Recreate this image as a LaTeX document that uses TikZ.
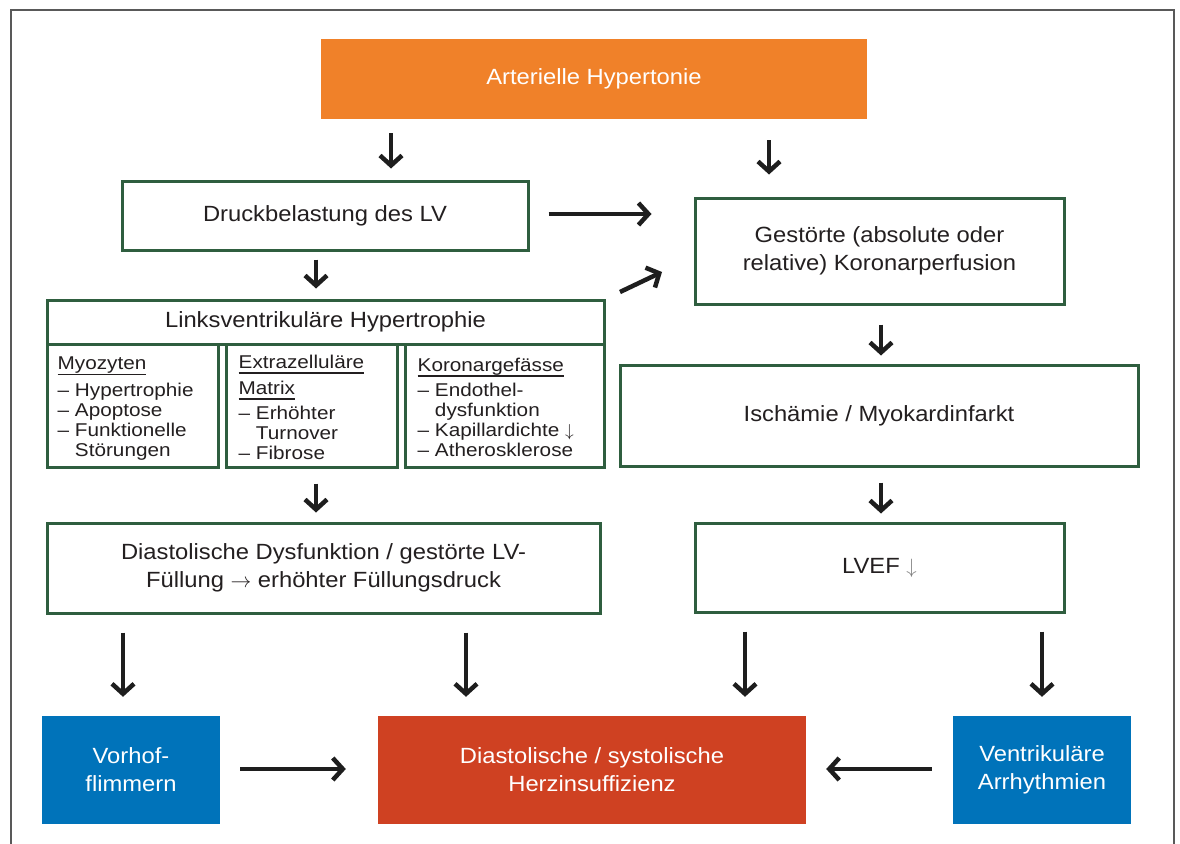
\documentclass[tikz,border=0pt]{standalone}
\usepackage{fontspec}
\setmainfont{Liberation Sans}[FakeStretch=1.08]
\newfontfamily\subfont{Liberation Sans}[FakeStretch=1.12]
\usetikzlibrary{arrows.meta}
\definecolor{boxgreen}{HTML}{2F5E3F}
\definecolor{hypo}{HTML}{F08129}
\definecolor{afblue}{HTML}{0073BA}
\definecolor{hired}{HTML}{CF4122}
\definecolor{txt}{HTML}{231F20}
\definecolor{arrc}{HTML}{1E1E1E}
\newcommand\myul[1]{\setbox0\hbox{#1}\rlap{\rule[-5.5pt]{\wd0}{1.3pt}}\box0}
\newcommand\myind{\phantom{–\ }}
\begin{document}
\begin{tikzpicture}[x=1pt,y=-1pt,
  mainfont/.style={font=\fontsize{22}{28}\selectfont},
  gbox/.style={draw=boxgreen, line width=3pt, fill=white, text=txt, align=center, inner sep=0pt, mainfont},
  fbox/.style={draw=none, text=white, align=center, inner sep=0pt, mainfont},
  subtext/.style={anchor=north west, inner sep=0pt, align=left, text=txt, font=\subfont\fontsize{18.5}{20}\selectfont},
  arr/.style={draw=arrc, line width=4.5pt, -{Straight Barb[length=10pt,width=22pt]}},
  framestyle/.style={draw=gray!70!black, line width=1.3pt}
]
\useasboundingbox (0,0) rectangle (1180,843);
\draw[framestyle] (11,845) -- (11,10) -- (1174,10) -- (1174,845);

\node[fbox, fill=hypo, minimum width=546pt, minimum height=80pt] (hyp) at (594,79) {Arterielle Hypertonie};
\node[gbox, minimum width=406pt, minimum height=69pt] (druck) at (325,215.5) {Druckbelastung des LV};
\node[gbox, minimum width=369pt, minimum height=106pt] (gest) at (879.5,251) {Gestörte (absolute oder\\relative) Koronarperfusion};
\node[gbox, minimum width=557pt, minimum height=44pt] (lvh) at (325.5,322) {Linksventrikuläre Hypertrophie};
\node[gbox, minimum width=171pt, minimum height=123pt] (myo) at (132.5,405.5) {};
\node[gbox, minimum width=171pt, minimum height=123pt] (extra) at (311.5,405.5) {};
\node[gbox, minimum width=199pt, minimum height=123pt] (koro) at (504.5,405.5) {};
\node[gbox, minimum width=518pt, minimum height=101pt] (isch) at (879,415.5) {Ischämie / Myokardinfarkt};
\node[gbox, minimum width=553pt, minimum height=90pt] (diast) at (323.5,568) {Diastolische Dysfunktion / gestörte LV-\\Füllung $\rightarrow$ erhöhter Füllungsdruck};
\node[gbox, minimum width=369pt, minimum height=89pt] (lvef) at (879.5,567.5) {LVEF {\color{gray}$\downarrow$}};
\node[fbox, fill=afblue, minimum width=178pt, minimum height=108pt] (vorhof) at (131,770) {Vorhof-\\flimmern};
\node[fbox, fill=hired, minimum width=428pt, minimum height=108pt] (herz) at (592,770) {Diastolische / systolische\\Herzinsuffizienz};
\node[fbox, fill=afblue, minimum width=178pt, minimum height=108pt] (ventr) at (1042,770) {Ventrikuläre\\Arrhythmien};

\node[subtext] (myotxt) at ([xshift=12pt,yshift=-14pt]myo.north west)
  {\myul{Myozyten}\\[7pt] – Hypertrophie\\ – Apoptose\\ – Funktionelle\\ \myind Störungen};
\node[subtext] (extratxt) at ([xshift=14pt,yshift=-12pt]extra.north west)
  {\myul{Extrazelluläre}\\[6pt] \myul{Matrix}\\[5pt] – Erhöhter\\ \myind Turnover\\ – Fibrose};
\node[subtext] (korotxt) at ([xshift=14pt,yshift=-15pt]koro.north west)
  {\myul{Koronargefässe}\\[5pt] – Endothel-\\ \myind dysfunktion\\ – Kapillardichte $\downarrow$\\ – Atherosklerose};

\draw[arr, shorten <=14pt, shorten >=11pt] ([xshift=-203pt]hyp.south) -- ([xshift=66pt]druck.north);
\draw[arr, shorten <=21pt, shorten >=22pt] ([xshift=175pt]hyp.south) -- ([xshift=-110.5pt]gest.north);
\draw[arr, shorten <=19pt, shorten >=42pt] ([yshift=1.5pt]druck.east) -- ([yshift=1.5pt]druck.east -| gest.west);
\draw[arr, shorten <=8pt, shorten >=10pt] ([xshift=-9pt]druck.south) -- ([xshift=-9.5pt]lvh.north);
\draw[arr] ([xshift=14.5pt,yshift=6.5pt]lvh.north east) -- ([xshift=-31.5pt,yshift=-21pt]gest.west);
\draw[arr, shorten <=19pt, shorten >=8pt] ([xshift=1.5pt]gest.south) -- ([xshift=2pt]isch.north);
\draw[arr, shorten <=15pt, shorten >=8pt] ([xshift=2pt]isch.south) -- ([xshift=1.5pt]lvef.north);
\draw[arr, shorten <=15pt, shorten >=9pt] ([xshift=4.5pt]extra.south) -- ([xshift=-7.5pt]diast.north);
\draw[arr, shorten <=18pt, shorten >=19pt] ([xshift=-200.5pt]diast.south) -- ([xshift=-8pt]vorhof.north);
\draw[arr, shorten <=18pt, shorten >=19pt] ([xshift=142.5pt]diast.south) -- ([xshift=-126pt]herz.north);
\draw[arr, shorten <=18pt, shorten >=19pt] ([xshift=-134.5pt]lvef.south) -- ([xshift=153pt]herz.north);
\draw[arr, shorten <=18pt, shorten >=19pt] ([xshift=162.5pt]lvef.south) -- (ventr.north);
\draw[arr, shorten <=20pt, shorten >=32pt] ([yshift=1pt]vorhof.east) -- ([yshift=1pt]herz.west);
\draw[arr, shorten <=21pt, shorten >=20pt] ([yshift=1pt]ventr.west) -- ([yshift=1pt]herz.east);
\end{tikzpicture}
\end{document}
